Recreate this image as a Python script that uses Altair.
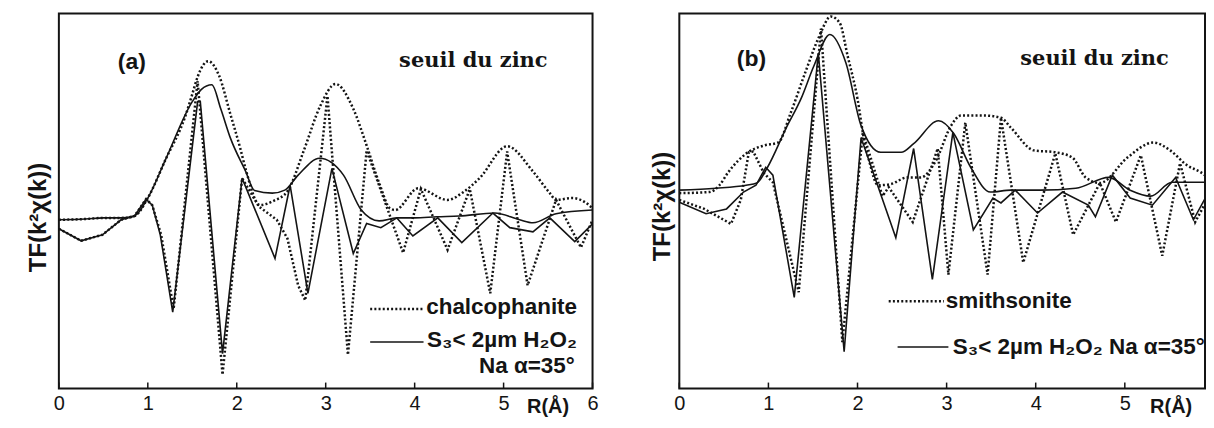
import altair as alt
import pandas as pd

# ---------------- Panel (a): chalcophanite (dotted) vs sample (solid) ----------------
A_SOL_MAG_R = [0, 0.3, 0.5, 0.7, 0.85, 1.0, 1.2, 1.5, 1.6, 1.72, 1.82, 1.93, 2.1, 2.2, 2.4, 2.54,
               2.69, 2.93, 3.2, 3.4, 3.6, 3.8, 4.0, 4.25, 4.5, 4.9, 5.18, 5.33, 5.59, 6.0]
A_SOL_MAG_V = [4.50, 4.52, 4.55, 4.55, 4.60, 5.08, 6.11, 7.65, 7.97, 8.10, 7.46, 6.67, 5.79, 5.28, 5.21, 5.29,
               5.69, 6.14, 5.69, 4.76, 4.47, 4.55, 4.55, 4.58, 4.60, 4.68, 4.50, 4.42, 4.66, 4.76]

A_SOL_IM_R = [0, 0.25, 0.49, 0.70, 0.85, 0.98, 1.05, 1.14, 1.28, 1.56, 1.59, 1.84, 2.06, 2.43, 2.60,
              2.80, 3.07, 3.31, 3.46, 3.62, 3.80, 3.98, 4.26, 4.53, 4.88, 5.07, 5.33, 5.52, 5.80, 6.0]
A_SOL_IM_V = [4.26, 3.94, 4.10, 4.50, 4.60, 5.05, 4.89, 4.10, 2.04, 7.65, 7.65, 0.93, 5.61, 3.47, 5.42,
              2.54, 5.87, 3.60, 4.40, 4.29, 4.55, 4.07, 4.55, 3.89, 4.68, 4.29, 4.18, 4.55, 3.92, 4.39]

A_DOT_MAG_R = [0, 0.3, 0.5, 0.7, 0.85, 1.0, 1.2, 1.42, 1.5, 1.56, 1.68, 1.80, 1.93, 2.04, 2.10, 2.26,
               2.41, 2.57, 2.75, 2.94, 3.11, 3.31, 3.46, 3.61, 3.72, 3.78, 4.04, 4.37, 4.56, 4.73, 5.04,
               5.33, 5.52, 5.59, 5.77, 5.96, 6.0]
A_DOT_MAG_V = [4.50, 4.52, 4.55, 4.55, 4.60, 5.08, 6.11, 7.25, 7.85, 8.31, 8.73, 8.35, 7.30, 6.40, 5.85, 4.89,
               5.00, 5.26, 6.32, 7.54, 8.12, 7.46, 6.48, 5.42, 4.81, 4.76, 5.34, 5.03, 5.26, 5.61, 6.46,
               5.79, 5.21, 5.03, 5.08, 4.89, 4.80]

A_DOT_IM_R = [0, 0.25, 0.49, 0.70, 0.85, 0.98, 1.05, 1.15, 1.29, 1.56, 1.84, 2.06, 2.25, 2.45, 2.57,
              2.69, 2.77, 3.02, 3.25, 3.46, 3.87, 4.07, 4.37, 4.62, 4.85, 5.04, 5.27, 5.59, 5.87, 6.0]
A_DOT_IM_V = [4.26, 3.94, 4.10, 4.50, 4.60, 5.05, 4.89, 4.10, 2.12, 8.20, 0.37, 5.61, 4.85, 4.50, 4.00,
              2.75, 2.35, 7.80, 0.90, 6.35, 3.62, 5.32, 3.70, 5.32, 2.54, 6.32, 2.75, 5.03, 3.76, 4.50]

# ---------------- Panel (b): smithsonite (dotted) vs sample (solid) ----------------
B_SOL_MAG_R = [0, 0.41, 0.75, 0.87, 0.99, 1.2, 1.37, 1.51, 1.69, 1.87, 2.04, 2.26, 2.49, 2.63, 2.91,
               3.08, 3.27, 3.49, 3.72, 4.05, 4.45, 4.82, 5.06, 5.29, 5.53, 6.0]
B_SOL_MAG_V = [5.29, 5.34, 5.42, 5.48, 5.90, 6.95, 7.75, 8.60, 9.44, 8.68, 7.01, 6.30, 6.30, 6.53, 7.14,
               6.80, 5.90, 5.24, 5.29, 5.29, 5.34, 5.63, 5.29, 5.13, 5.50, 5.50]

B_SOL_IM_R = [0, 0.30, 0.53, 0.72, 0.86, 0.97, 1.05, 1.29, 1.56, 1.85, 2.04, 2.43, 2.63, 2.84, 3.07,
              3.30, 3.52, 3.61, 3.77, 4.02, 4.30, 4.59, 4.67, 4.86, 5.06, 5.31, 5.57, 5.77, 6.0]
B_SOL_IM_V = [4.97, 4.66, 4.79, 5.24, 5.42, 5.90, 5.69, 2.43, 8.94, 0.98, 6.69, 4.02, 6.40, 2.91, 6.83,
              4.23, 5.08, 4.95, 5.29, 4.68, 5.24, 4.89, 4.58, 5.69, 5.08, 4.89, 5.63, 4.50, 5.50]

B_DOT_MAG_R = [0, 0.34, 0.45, 0.55, 0.77, 0.95, 1.11, 1.25, 1.42, 1.57, 1.70, 1.80, 1.89, 2.00, 2.07,
               2.13, 2.23, 2.37, 2.56, 2.71, 2.88, 3.05, 3.16, 3.42, 3.61, 3.72, 3.98, 4.22, 4.41, 4.56,
               4.72, 5.03, 5.32, 5.51, 5.70, 5.85, 6.0]
B_DOT_MAG_V = [5.21, 5.24, 5.42, 5.77, 6.30, 6.48, 6.56, 7.35, 8.47, 9.39, 9.92, 9.75, 8.86, 7.72, 6.69,
               6.08, 5.42, 5.45, 5.63, 5.63, 6.08, 7.01, 7.28, 7.28, 7.22, 6.96, 6.35, 6.30, 6.16, 5.63,
               5.48, 6.16, 6.56, 6.35, 5.95, 5.77, 5.50]

B_DOT_IM_R = [0, 0.28, 0.58, 0.69, 0.78, 0.83, 0.95, 1.05, 1.34, 1.59, 1.83, 2.06, 2.28, 2.35, 2.62,
              2.90, 3.02, 3.21, 3.46, 3.61, 3.86, 4.22, 4.42, 4.72, 4.90, 5.18, 5.42, 5.62, 5.79, 6.0]
B_DOT_IM_V = [5.03, 4.79, 4.39, 5.03, 6.30, 6.32, 5.74, 5.50, 2.57, 9.60, 1.24, 6.83, 5.13, 5.37, 4.44,
              6.40, 3.04, 7.09, 3.04, 7.22, 3.36, 6.27, 4.10, 5.48, 4.44, 6.22, 3.54, 6.01, 4.44, 5.37]

# ---------------- texts and axis labels ----------------
Y_TITLE = "TF(k²χ(k))"
X_TITLE = "R(Å)"
THRESHOLD = "seuil du zinc"
TICKS_A = [0, 1, 2, 3, 4, 5, 6]
TICKS_B = [0, 1, 2, 3, 4, 5]

A_TAG = "(a)"
B_TAG = "(b)"
A_LEGEND = ["chalcophanite", "S₃< 2µm H₂O₂", "Na α=35°"]
B_LEGEND = ["smithsonite", "S₃< 2µm H₂O₂ Na α=35°"]

INK = "#141414"
SANS = "Liberation Sans"
SERIF = "DejaVu Serif"
HEIGHT = 376


def df(r, v):
    return pd.DataFrame({"R": r, "V": v})


def panel(curves, tag, tag_pos, thr_pos, leg_texts, leg_rules, ticks, xmax, width,
          ytitle_pad, ytitle_y, xtitle_r):
    x = alt.X("R:Q", scale=alt.Scale(domain=[0, xmax], nice=False, zero=False),
              axis=alt.Axis(values=ticks, title=None, grid=False, ticks=False, domain=False,
                            labelFont=SANS, labelFontSize=20, labelColor=INK, labelPadding=5,
                            labelAngle=0, labelFlush=False))
    y = alt.Y("V:Q", scale=alt.Scale(domain=[0, 10], nice=False, zero=False),
              axis=alt.Axis(title=Y_TITLE, labels=False, ticks=False, grid=False, domain=False,
                            titleFont=SANS, titleFontSize=24, titleFontWeight="bold", titleColor=INK,
                            titlePadding=ytitle_pad, titleY=ytitle_y, titleAlign="center"))
    layers = []
    for data, dotted, interp in curves:
        kw = dict(color=INK, interpolate=interp, clip=True)
        if dotted:
            kw.update(strokeWidth=2.5, strokeDash=[2, 2.2], strokeCap="butt")
        else:
            kw.update(strokeWidth=1.6)
        layers.append(alt.Chart(data).mark_line(**kw).encode(x=x, y=y, order="R:Q"))

    # inward ticks on the bottom frame
    layers.append(alt.Chart(pd.DataFrame({"R": ticks})).mark_rule(color=INK, strokeWidth=1.5)
                  .encode(x=x, y=alt.value(HEIGHT - 6), y2=alt.value(HEIGHT)))

    # legend samples
    for (r1, r2, v, dotted) in leg_rules:
        kw = dict(color=INK)
        if dotted:
            kw.update(strokeWidth=2.5, strokeDash=[2, 2.2], strokeCap="butt")
        else:
            kw.update(strokeWidth=1.6)
        layers.append(alt.Chart(pd.DataFrame({"R": [r1], "R2": [r2], "V": [v]}))
                      .mark_rule(**kw).encode(x=x, x2="R2:Q", y=y))

    # tag (a)/(b)
    layers.append(alt.Chart(pd.DataFrame({"R": [tag_pos[0]], "V": [tag_pos[1]], "txt": [tag]}))
                  .mark_text(font=SANS, fontSize=23, fontWeight="bold", color=INK,
                             align="center", baseline="middle")
                  .encode(x=x, y=y, text="txt:N"))
    # threshold label
    layers.append(alt.Chart(pd.DataFrame({"R": [thr_pos[0]], "V": [thr_pos[1]], "txt": [THRESHOLD]}))
                  .mark_text(font=SERIF, fontSize=21, fontWeight="bold", color=INK,
                             align="center", baseline="middle")
                  .encode(x=x, y=y, text="txt:N"))
    # legend texts
    for (txt, r, v, al) in leg_texts:
        layers.append(alt.Chart(pd.DataFrame({"R": [r], "V": [v], "txt": [txt]}))
                      .mark_text(font=SANS, fontSize=22.5, fontWeight="bold", color=INK,
                                 align=al, baseline="middle")
                      .encode(x=x, y=y, text="txt:N"))
    # x-axis title R(Å), placed below the axis between the last tick labels
    layers.append(alt.Chart(pd.DataFrame({"R": [xtitle_r], "txt": [X_TITLE]}))
                  .mark_text(font=SANS, fontSize=20, fontWeight="bold", color=INK,
                             align="center", baseline="alphabetic")
                  .encode(x=x, y=alt.value(HEIGHT + 24), text="txt:N"))
    return alt.layer(*layers).properties(width=width, height=HEIGHT)


pa = panel(
    curves=[(df(A_SOL_MAG_R, A_SOL_MAG_V), False, "monotone"),
            (df(A_SOL_IM_R, A_SOL_IM_V), False, "linear"),
            (df(A_DOT_MAG_R, A_DOT_MAG_V), True, "monotone"),
            (df(A_DOT_IM_R, A_DOT_IM_V), True, "linear")],
    tag=A_TAG, tag_pos=(0.82, 8.70), thr_pos=(4.66, 8.73),
    leg_texts=[(A_LEGEND[0], 4.13, 2.17, "left"),
               (A_LEGEND[1], 4.14, 1.30, "left"),
               (A_LEGEND[2], 5.80, 0.61, "right")],
    leg_rules=[(3.50, 4.09, 2.12, True), (3.50, 4.10, 1.24, False)],
    ticks=TICKS_A, xmax=6, width=535, ytitle_pad=8, ytitle_y=204, xtitle_r=5.50)

pb = panel(
    curves=[(df(B_SOL_MAG_R, B_SOL_MAG_V), False, "monotone"),
            (df(B_SOL_IM_R, B_SOL_IM_V), False, "linear"),
            (df(B_DOT_MAG_R, B_DOT_MAG_V), True, "monotone"),
            (df(B_DOT_IM_R, B_DOT_IM_V), True, "linear")],
    tag=B_TAG, tag_pos=(0.81, 8.78), thr_pos=(4.66, 8.78),
    leg_texts=[(B_LEGEND[0], 2.99, 2.33, "left"),
               (B_LEGEND[1], 3.07, 1.11, "left")],
    leg_rules=[(2.35, 2.97, 2.33, True), (2.45, 3.02, 1.11, False)],
    ticks=TICKS_B, xmax=5.9, width=527, ytitle_pad=5, ytitle_y=193, xtitle_r=5.52)

chart = (alt.hconcat(pa, pb, spacing=50)
         .resolve_scale(x="independent", y="independent")
         .properties(padding={"left": 18, "top": 4, "right": 0, "bottom": 0}, background="white")
         .configure_view(stroke=INK, strokeWidth=2))

chart.save("out.html", embed_options={"renderer": "svg", "actions": False})
